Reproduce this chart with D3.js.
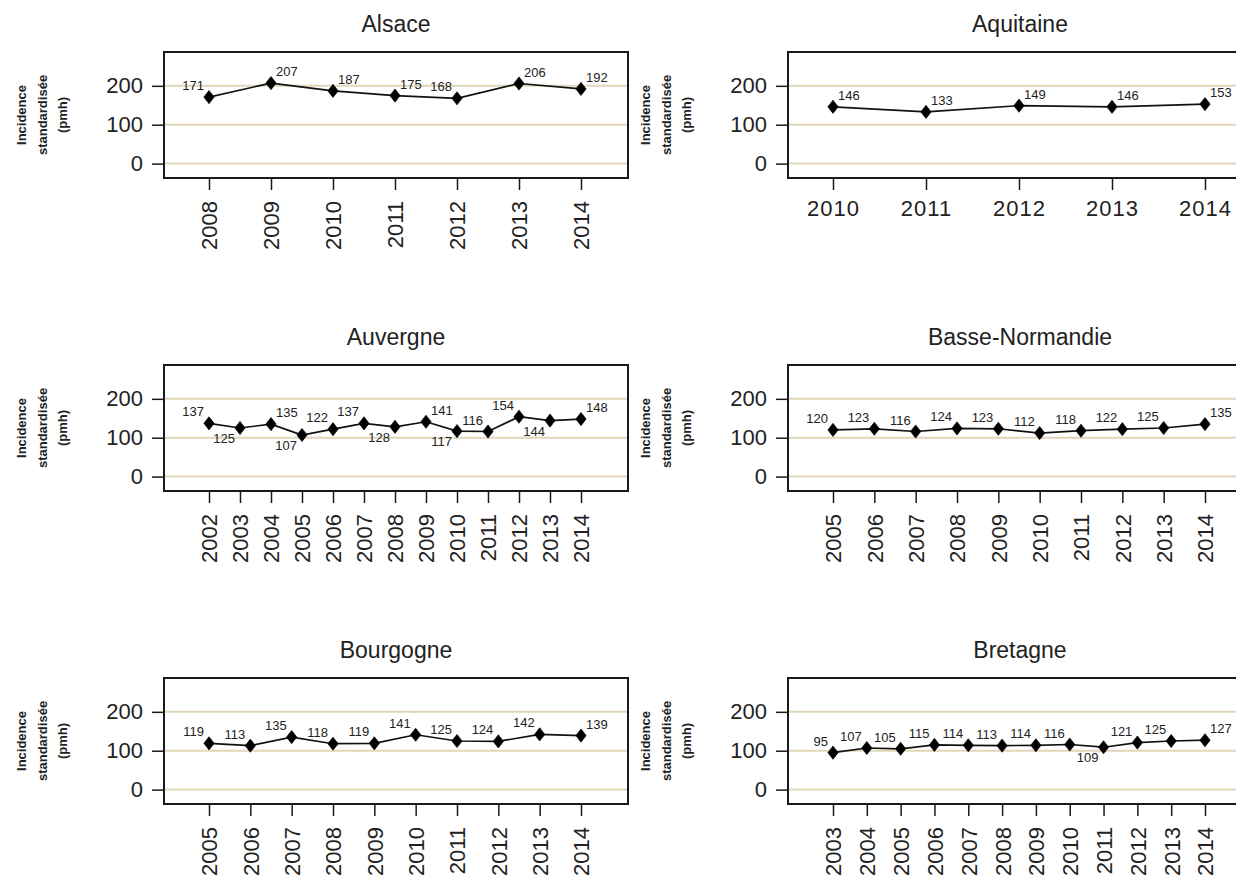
<!DOCTYPE html>
<html><head><meta charset="utf-8">
<script src="https://cdn.jsdelivr.net/npm/d3@7"></script>
<style>html,body{margin:0;padding:0;background:#fff;overflow:hidden}</style>
</head><body><svg id="chart" width="1236" height="879"></svg>
<script>
// ---- data ----
const alsaceYears = ["2008","2009","2010","2011","2012","2013","2014"];
const alsaceValues = [171,207,187,175,168,206,192];
const alsaceLabelPos = ["ul","ur","ur","ur","ul","ur","ur"];

const aquitaineYears = ["2010","2011","2012","2013","2014"];
const aquitaineValues = [146,133,149,146,153];
const aquitaineLabelPos = ["ur","ur","ur","ur","ur"];

const auvergneYears = ["2002","2003","2004","2005","2006","2007","2008","2009","2010","2011","2012","2013","2014"];
const auvergneValues = [137,125,135,107,122,137,128,141,117,116,154,144,148];
const auvergneLabelPos = ["ul","bl","ur","bl","ul","ul","bl","ur","bl","ul","ul","bl","ur"];

const basseNormandieYears = ["2005","2006","2007","2008","2009","2010","2011","2012","2013","2014"];
const basseNormandieValues = [120,123,116,124,123,112,118,122,125,135];
const basseNormandieLabelPos = ["ul","ul","ul","ul","ul","ul","ul","ul","ul","ur"];

const bourgogneYears = ["2005","2006","2007","2008","2009","2010","2011","2012","2013","2014"];
const bourgogneValues = [119,113,135,118,119,141,125,124,142,139];
const bourgogneLabelPos = ["ul","ul","ul","ul","ul","ul","ul","ul","ul","ur"];

const bretagneYears = ["2003","2004","2005","2006","2007","2008","2009","2010","2011","2012","2013","2014"];
const bretagneValues = [95,107,105,115,114,113,114,116,109,121,125,127];
const bretagneLabelPos = ["ul","ul","ul","ul","ul","ul","ul","ul","bl","ul","ul","ur"];

const yTicks = [0,100,200];
const yAxisTitle = ["Incidence","standardisée","(pmh)"];

const panels = [
  {title:"Alsace", years:alsaceYears, values:alsaceValues, pos:alsaceLabelPos, rotate:true},
  {title:"Aquitaine", years:aquitaineYears, values:aquitaineValues, pos:aquitaineLabelPos, rotate:false},
  {title:"Auvergne", years:auvergneYears, values:auvergneValues, pos:auvergneLabelPos, rotate:true},
  {title:"Basse-Normandie", years:basseNormandieYears, values:basseNormandieValues, pos:basseNormandieLabelPos, rotate:true},
  {title:"Bourgogne", years:bourgogneYears, values:bourgogneValues, pos:bourgogneLabelPos, rotate:true},
  {title:"Bretagne", years:bretagneYears, values:bretagneValues, pos:bretagneLabelPos, rotate:true}
];

// ---- layout ----
const FONT = "'Liberation Sans', Arial, sans-serif";
const colLeft = [164, 788], rowTop = [52, 365, 678];
const plotW = 464, plotH = 126;
const svg = d3.select("#chart");
svg.append("rect").attr("width",1236).attr("height",879).attr("fill","#fff");

panels.forEach((p, i) => {
  const left = colLeft[i % 2], top = rowTop[Math.floor(i / 2)];
  const g = svg.append("g").attr("transform", `translate(${left},${top})`);
  const x = d3.scalePoint().domain(p.years).range([45, 417]);
  const y = d3.scaleLinear().domain([-37, 287]).range([plotH, 0]);

  // grid lines
  g.selectAll("line.grid").data(yTicks).join("line").attr("class","grid")
    .attr("x1", 0).attr("x2", plotW)
    .attr("y1", d => y(d)).attr("y2", d => y(d))
    .attr("stroke", "#e0d6b8").attr("stroke-width", 2);

  // series line
  g.append("path").datum(p.values)
    .attr("d", d3.line().x((d, j) => x(p.years[j])).y(d => y(d)))
    .attr("fill", "none").attr("stroke", "#111").attr("stroke-width", 1.7);

  // markers
  g.selectAll("path.pt").data(p.values).join("path").attr("class","pt")
    .attr("transform", (d, j) => `translate(${x(p.years[j])},${y(d)}) scale(1.35,1)`)
    .attr("d", d3.symbol(d3.symbolDiamond, 50))
    .attr("fill", "#000").attr("stroke", "#000").attr("stroke-width", 0.6);

  // value labels
  g.selectAll("text.val").data(p.values).join("text").attr("class","val")
    .attr("x", (d, j) => x(p.years[j]) + (p.pos[j] === "ur" ? 5 : -5))
    .attr("y", (d, j) => y(d) + (p.pos[j] === "bl" ? 15 : -7))
    .attr("text-anchor", (d, j) => p.pos[j] === "ur" ? "start" : "end")
    .attr("font-family", FONT).attr("font-size", 13).attr("fill", "#222")
    .text(d => d);

  // frame
  g.append("rect").attr("width", plotW).attr("height", plotH)
    .attr("fill", "none").attr("stroke", "#1a1a1a").attr("stroke-width", 2);

  // y axis
  const ya = g.append("g").call(d3.axisLeft(y).tickValues(yTicks).tickSize(12).tickPadding(9));
  ya.select(".domain").remove();
  ya.selectAll(".tick line").attr("stroke", "#1a1a1a").attr("stroke-width", 1.5);
  ya.selectAll(".tick text").attr("font-family", FONT).attr("font-size", 22).attr("fill", "#222");

  // x axis
  const xa = g.append("g").attr("transform", `translate(0,${plotH})`)
    .call(d3.axisBottom(x).tickSize(12).tickPadding(p.rotate ? 11 : 9));
  xa.select(".domain").remove();
  xa.selectAll(".tick line").attr("stroke", "#1a1a1a").attr("stroke-width", 1.5);
  const xt = xa.selectAll(".tick text").attr("font-family", FONT).attr("font-size", 22).attr("fill", "#222");
  if (p.rotate) {
    xt.attr("transform", "rotate(-90)").attr("text-anchor", "end")
      .attr("x", -23).attr("y", 0).attr("dy", "0.36em");
  } else {
    xt.attr("y", 22).attr("dy", "0.71em").attr("letter-spacing", 1);
  }

  // y axis title
  const tg = g.append("g").attr("transform", `translate(0,${plotH / 2})`);
  yAxisTitle.forEach((t, k) => {
    tg.append("text")
      .attr("transform", `translate(${-143 + k * 20.5 + 5},0) rotate(-90)`)
      .attr("text-anchor", "middle")
      .attr("font-family", FONT).attr("font-weight", "bold").attr("font-size", 13)
      .attr("fill", "#222").text(t);
  });

  // panel title
  svg.append("text").attr("x", left + plotW / 2).attr("y", top - 20)
    .attr("text-anchor", "middle").attr("font-family", FONT).attr("font-size", 23)
    .attr("fill", "#222").text(p.title);
});
</script>
</body></html>
